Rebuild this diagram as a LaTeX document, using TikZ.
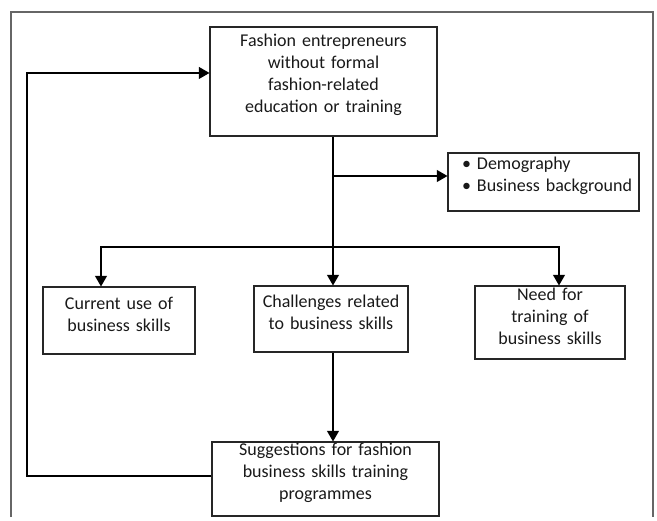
\documentclass[tikz,border=0pt]{standalone}
\usepackage{fontspec}
\setmainfont{Carlito}
\usepackage{tikz}
\usetikzlibrary{arrows.meta,calc,positioning,fit}

\begin{document}
\begin{tikzpicture}[x=0.75pt,y=-0.75pt,arrow/.style = {line width=0.8pt,-{Triangle[length=8pt,width=9pt]}}]
					\tikzset{set/.style={draw=black!85,line width=0.8pt,rectangle,inner sep=0pt,align=center,font=\fontsize{13.5}{16.5}\selectfont,text=black!90}}
					\useasboundingbox (0,0) rectangle (657,521);

					% Frame
					\draw[black!60, line width=1pt] (11,517) -- (11,12) -- (653,12) -- (653,517);

					% Boxes
					\node[fit={(210,27) (437,136)}, set] (fe) {Fashion entrepreneurs\\without formal\\fashion-related\\education or training};
					\node[fit={(448,153) (639,211)}, set, align=left] (demo) {\hspace*{10.5pt}•\ Demography\\\hspace*{10.5pt}•\ Business background};
					\node[fit={(43,287) (195,354)}, set] (cur) {Current use of\\business skills};
					\node[fit={(254,286) (408,352)}, set] (chal) {Challenges related\\to business skills};
					\node[fit={(475,286) (625,359)}, set] (need) {Need for\\training of\\business skills};
					\node[fit={(212,442) (439,516)}, set] (sugg) {Suggestions for fashion\\business skills training\\programmes};

					% Connectors
					\coordinate (split) at (333,176);
					\coordinate (bar) at (333,247);
					\coordinate (loop) at (27,476);

					\draw[arrow] (fe.south -| bar) -- (bar |- chal.north);
					\draw[arrow] (split) -- (split -| demo.west);
					\draw[arrow] (bar) -| ([xshift=-13.5pt]cur.north);
					\draw[arrow] (bar) -| ([xshift=6.75pt]need.north);
					\draw[arrow] (chal.south -| bar) -- (bar |- sugg.north);
					\draw[arrow] (sugg.west |- loop) -- (loop) |- ([yshift=6.4pt]fe.west);

				\end{tikzpicture}
\end{document}
